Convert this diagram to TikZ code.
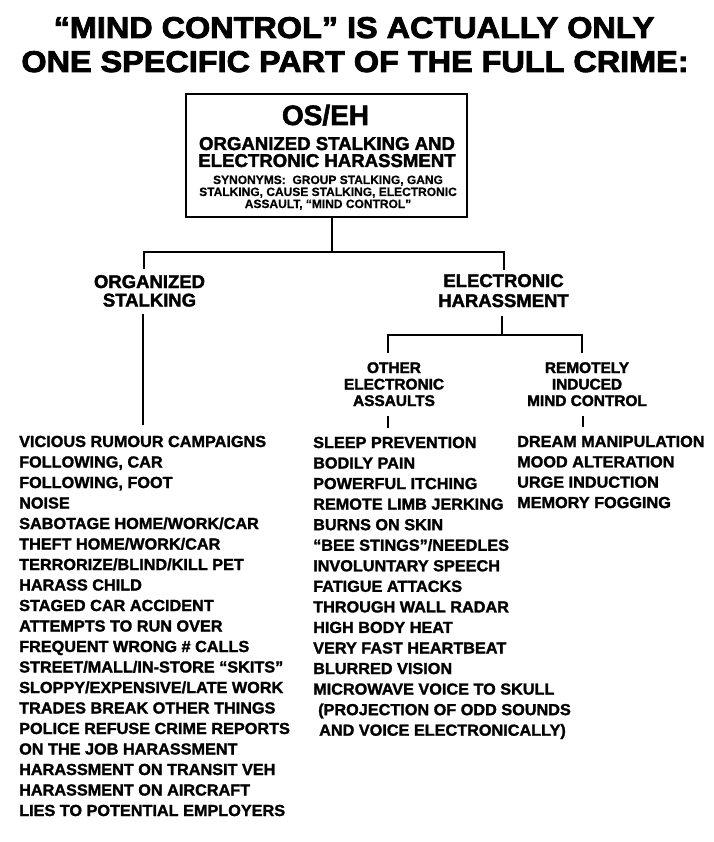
\documentclass[tikz,border=0pt]{standalone}
\usepackage{fontspec}
\newfontfamily\titlefont[FakeBold=2.8,FakeStretch=1.08]{Liberation Sans Bold}
\newfontfamily\heavyfont[FakeBold=2]{Liberation Sans Bold}
\newfontfamily\listfont[FakeBold=1.6,FakeStretch=1.015]{Liberation Sans Bold}
\newfontfamily\plainbold[FakeBold=0.6]{Liberation Sans Bold}
\begin{document}
\begin{tikzpicture}[x=1pt,y=-1pt,
  conn/.style={line width=2.2pt, line cap=rect},
  ttl/.style={anchor=base, inner sep=0pt, font=\fontsize{30}{30}\titlefont},
  boxtxt/.style={anchor=base, inner sep=0pt},
  lbl/.style={anchor=base, inner sep=0pt, align=center},
  item/.style={anchor=base west, inner sep=0pt, font=\fontsize{16}{16}\listfont}]
\useasboundingbox (0,0) rectangle (713,842);
\fill[white] (0,0) rectangle (713,842);
% title
\node[ttl] (t1) at (354,38) {“MIND CONTROL” IS ACTUALLY ONLY};
\node[ttl] (t2) at (355,72) {ONE SPECIFIC PART OF THE FULL CRIME:};
% main box
\node[draw, line width=2.4pt, minimum width=281pt, minimum height=123pt, inner sep=0pt] (box) at (326.5,155.5) {};
\node[boxtxt, font=\fontsize{28}{28}\heavyfont] (b1) at (325.5,125) {OS/EH};
\node[boxtxt, font=\fontsize{18.6}{18.6}\heavyfont] (b2) at (327,150) {ORGANIZED STALKING AND};
\node[boxtxt, font=\fontsize{18.6}{18.6}\heavyfont] (b3) at (327,167) {ELECTRONIC HARASSMENT};
\node[boxtxt, font=\fontsize{12}{12}\plainbold] (b4) at (328,184) {SYNONYMS:\ \ GROUP STALKING, GANG};
\node[boxtxt, font=\fontsize{12}{12}\plainbold] (b5) at (328,196) {STALKING, CAUSE STALKING, ELECTRONIC};
\node[boxtxt, font=\fontsize{12}{12}\plainbold] (b6) at (328,208) {ASSAULT, “MIND CONTROL”};
% branch labels (base anchor = last line)
\node[lbl, font=\fontsize{18.5}{18.5}\heavyfont] (os) at (149.5,306.5) {ORGANIZED\\STALKING};
\node[lbl, font=\fontsize{18.5}{20}\heavyfont] (eh) at (503.5,307) {ELECTRONIC\\HARASSMENT};
\node[lbl, font=\fontsize{15.4}{16.5}\heavyfont] (oea) at (394,406) {OTHER\\ELECTRONIC\\ASSAULTS};
\node[lbl, font=\fontsize{15.4}{16.5}\heavyfont] (rim) at (587,406) {REMOTELY\\INDUCED\\MIND CONTROL};
% junction coordinates
\coordinate (jt) at (332,252);
\coordinate (jl) at (144,252);
\coordinate (jr) at (504,252);
\coordinate (ke) at (502,335);
\coordinate (kl) at (388,335);
\coordinate (kr) at (582,335);
% lists
\foreach \t [count=\i from 0] in {VICIOUS RUMOUR CAMPAIGNS,{FOLLOWING, CAR},{FOLLOWING, FOOT},NOISE,SABOTAGE HOME/WORK/CAR,THEFT HOME/WORK/CAR,TERRORIZE/BLIND/KILL PET,HARASS CHILD,STAGED CAR ACCIDENT,ATTEMPTS TO RUN OVER,FREQUENT WRONG \# CALLS,STREET/MALL/IN-STORE “SKITS”,SLOPPY/EXPENSIVE/LATE WORK,TRADES BREAK OTHER THINGS,POLICE REFUSE CRIME REPORTS,ON THE JOB HARASSMENT,HARASSMENT ON TRANSIT VEH,HARASSMENT ON AIRCRAFT,LIES TO POTENTIAL EMPLOYERS}
  \node[item] (ls\i) at (19,447+20.5*\i) {\t};
\foreach \t [count=\i from 0] in {SLEEP PREVENTION,BODILY PAIN,POWERFUL ITCHING,REMOTE LIMB JERKING,BURNS ON SKIN,“BEE STINGS”/NEEDLES,INVOLUNTARY SPEECH,FATIGUE ATTACKS,THROUGH WALL RADAR,HIGH BODY HEAT,VERY FAST HEARTBEAT,BLURRED VISION,MICROWAVE VOICE TO SKULL}
  \node[item] (lm\i) at (313,448+20.55*\i) {\t};
\node[item] (lm13) at (318,448+20.55*13) {(PROJECTION OF ODD SOUNDS};
\node[item] (lm14) at (319,448+20.55*14) {AND VOICE ELECTRONICALLY)};
\foreach \t [count=\i from 0] in {DREAM MANIPULATION,MOOD ALTERATION,URGE INDUCTION,MEMORY FOGGING}
  \node[item] (lr\i) at (517,447+20.35*\i) {\t};
% connectors
\draw[conn] (box.south -| jt) -- (jt);
\draw[conn] (jl) -- (jr);
\draw[conn] (jl) -- ([yshift=7pt]jl |- os.north);
\draw[conn] (jr) -- ([yshift=5pt]jr |- eh.north);
\draw[conn] ([yshift=-8pt]os.south -| 143,0) -- ([yshift=12pt]ls0.north -| 143,0);
\draw[conn] ([yshift=-10pt]eh.south -| ke) -- (ke);
\draw[conn] (kl) -- (kr);
\draw[conn] (kl) -- ([yshift=10pt]kl |- oea.north);
\draw[conn] (kr) -- ([yshift=10pt]kr |- rim.north);
\draw[line width=2pt] ([yshift=-10pt]oea.south -| kl) -- ([yshift=9pt]lm0.north -| kl);
\draw[line width=2pt] ([yshift=-10pt]rim.south -| 583,0) -- ([yshift=9pt]lr0.north -| 583,0);
\end{tikzpicture}
\end{document}
